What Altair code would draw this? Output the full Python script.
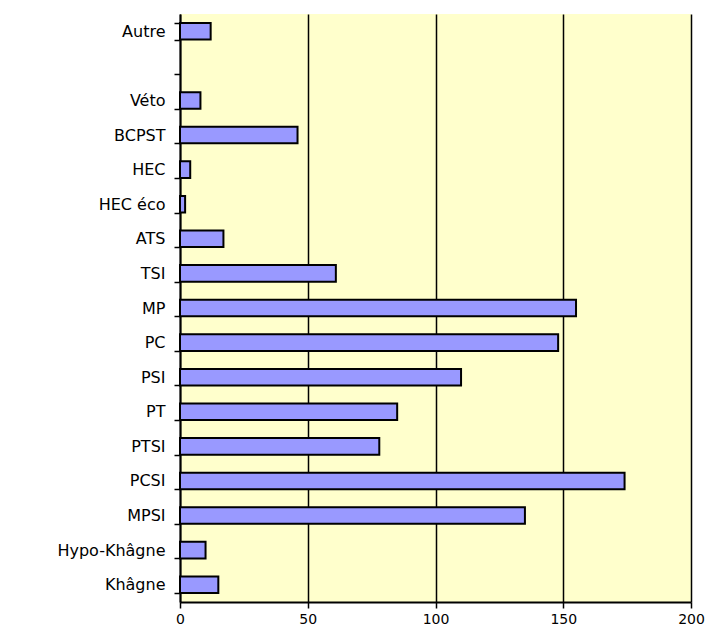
import altair as alt
import pandas as pd

categories = ["Autre", " ", "Véto", "BCPST", "HEC", "HEC éco", "ATS", "TSI",
              "MP", "PC", "PSI", "PT", "PTSI", "PCSI", "MPSI", "Hypo-Khâgne", "Khâgne"]
values = [12, None, 8, 46, 4, 2, 17, 61, 155, 148, 110, 85, 78, 174, 135, 10, 15]
x_ticks = [0, 50, 100, 150, 200]

df = pd.DataFrame({"cat": categories, "val": values})

font = "DejaVu Sans"

chart = alt.Chart(df).mark_bar(
    fill="#9999FF", stroke="black", strokeWidth=2
).encode(
    y=alt.Y("cat:N", sort=categories,
            scale=alt.Scale(domain=categories, paddingInner=0.52, paddingOuter=0.26),
            axis=alt.Axis(title=None, tickBand="extent", tickSize=6, tickColor="black",
                          tickWidth=1.5, domainColor="black", domainWidth=2,
                          labelFont=font, labelFontSize=16, labelColor="black",
                          labelPadding=9, grid=False)),
    x=alt.X("val:Q", scale=alt.Scale(domain=[0, 200], nice=False),
            axis=alt.Axis(title=None, values=x_ticks, tickSize=6, tickColor="black",
                          tickWidth=1.5, domainColor="black", domainWidth=2,
                          grid=True, gridColor="black", gridWidth=1.5, gridOpacity=1,
                          labelFont=font, labelFontSize=14, labelColor="black",
                          labelFlush=False, labelPadding=4)),
).properties(
    width=511, height=588,
    autosize=alt.AutoSizeParams(type="none"),
    padding={"left": 172, "top": 6, "right": 15, "bottom": 27},
).configure_view(
    fill="#FFFFCC", stroke=None
)

chart.save("out.html", embed_options={"renderer": "svg", "actions": False})
